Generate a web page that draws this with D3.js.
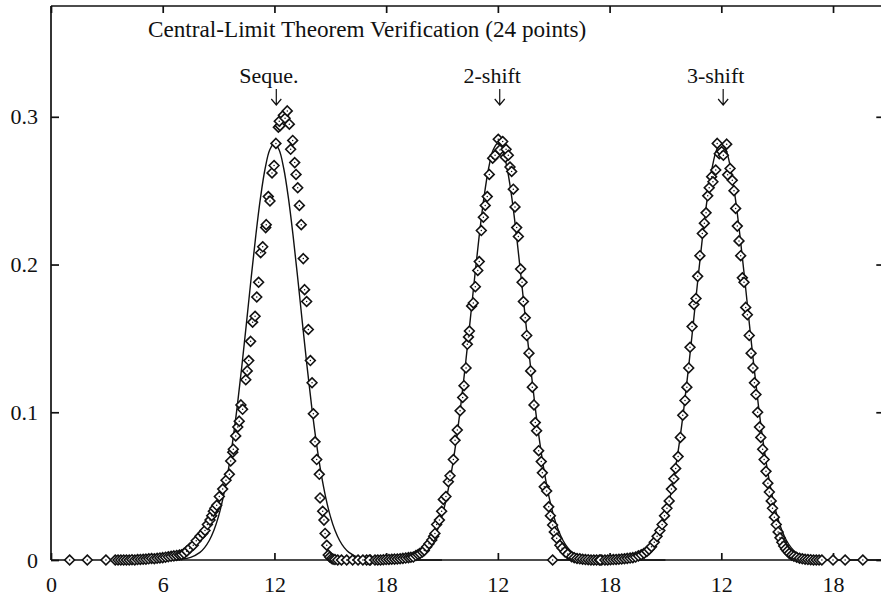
<!DOCTYPE html>
<html>
<head>
<meta charset="utf-8">
<script src="https://cdn.jsdelivr.net/npm/d3@7"></script>
<style>
  html, body { margin: 0; padding: 0; background: #fff; }
  svg { display: block; }
  text { font-family: "Liberation Serif", "Times New Roman", Times, serif; fill: #111; }
</style>
</head>
<body>
<svg id="chart" width="881" height="598"></svg>
<script>
// ---------------- data ----------------
const title = "Central-Limit Theorem Verification (24 points)";
const panelNames = ["Seque.", "2-shift", "3-shift"];
const panelOffsets = [0, 12, 24];          // each panel is shifted by 12 units on the shared axis
const xTickValues = [0, 6, 12, 18, 24, 30, 36, 42];
const xTickLabels = ["0", "6", "12", "18", "12", "18", "12", "18"];
const yTickValues = [0, 0.1, 0.2, 0.3];
const yTickLabels = ["0", "0.1", "0.2", "0.3"];
const labelX = 11.7;   // label centre (local units)
const arrowX = 12.1;   // arrow position (local units)

// theoretical normal curve (mean 12, variance 2)
const curveX = [3, 4, 5, 5.5, 6, 6.5, 7, 7.5, 8, 8.25, 8.5, 8.75, 9, 9.25, 9.5, 9.75, 10, 10.25, 10.5, 10.75, 11, 11.25, 11.5, 11.75,
  12, 12.25, 12.5, 12.75, 13, 13.25, 13.5, 13.75, 14, 14.25, 14.5, 14.75, 15, 15.25, 15.5, 15.75, 16, 16.5, 17, 17.5, 18, 18.5, 19, 20, 21];
const curveY = [0, 0, 0.0000013, 0.000004, 0.000035, 0.00015, 0.00054, 0.00179, 0.00517, 0.00839, 0.0132, 0.0201, 0.0297, 0.0426, 0.0591, 0.0796, 0.1038, 0.1312, 0.1607, 0.1909, 0.2197, 0.2451, 0.2650, 0.2777,
  0.2821, 0.2777, 0.2650, 0.2451, 0.2197, 0.1909, 0.1607, 0.1312, 0.1038, 0.0796, 0.0591, 0.0426, 0.0297, 0.0201, 0.0132, 0.00839, 0.00517, 0.00179, 0.00054, 0.00015, 0.000035, 0.000004, 0.0000013, 0, 0];

// "Seque." histogram points
const seqX = [1.0, 1.95, 2.95, 3.45, 3.6, 3.75, 3.9, 4.05, 4.2, 4.35, 4.5, 4.65, 4.8, 4.95, 5.1, 5.25, 5.4, 5.55, 5.7, 5.85, 6.0, 6.15, 6.3, 6.45, 6.6, 6.75, 6.9, 7.02,
  7.15, 7.29, 7.45, 7.64, 7.8, 8.0, 8.15, 8.27, 8.4, 8.54, 8.63, 8.72, 8.8, 8.9, 9.04, 9.22, 9.4, 9.58, 9.65, 9.76, 9.79, 9.92, 10.03, 10.11, 10.2, 10.29,
  10.46, 10.54, 10.62, 10.72, 10.83, 10.96, 11.05, 11.15, 11.26, 11.37, 11.53, 11.56, 11.67, 11.76, 11.87, 11.98, 12.08, 12.21, 12.3, 12.26, 12.48, 12.57, 12.69,
  12.8, 12.87, 12.98, 13.09, 13.16, 13.25, 13.34, 13.44, 13.55, 13.62, 13.73, 13.82, 13.93, 14.02, 14.09, 14.18, 14.27, 14.41, 14.45, 14.59, 14.66, 14.72, 14.81,
  14.89, 14.97, 15.07, 15.15, 15.25, 15.4, 15.6, 15.88, 16.2, 16.49, 16.95, 17.15];
const seqY = [0, 0, 0, 0, 0, 0, 0, 0, 0, 0.0002, 0, 0.0003, 0.0004, 0.0005, 0.0006, 0.0008, 0.001, 0.0009, 0.0012, 0.0014, 0.0016, 0.0019, 0.0022, 0.0025, 0.0028, 0.0031, 0.0034, 0.0036,
  0.0045, 0.006, 0.008, 0.01, 0.013, 0.016, 0.018, 0.02, 0.024, 0.027, 0.03, 0.033, 0.035, 0.037, 0.043, 0.048, 0.054, 0.058, 0.067, 0.073, 0.075, 0.084, 0.09, 0.094, 0.105, 0.102,
  0.122, 0.128, 0.135, 0.148, 0.161, 0.165, 0.178, 0.188, 0.208, 0.212, 0.225, 0.227, 0.246, 0.243, 0.262, 0.267, 0.282, 0.293, 0.294, 0.297, 0.301, 0.299, 0.304,
  0.295, 0.278, 0.284, 0.269, 0.261, 0.252, 0.24, 0.227, 0.204, 0.183, 0.175, 0.156, 0.135, 0.12, 0.099, 0.08, 0.068, 0.058, 0.042, 0.033, 0.027, 0.018, 0.01,
  0.0034, 0.002, 0.001, 0.0005, 0.0003, 0, 0, 0, 0, 0, 0, 0];

// "2-shift" histogram points (local units)
const shift2X = [4.75, 5.1, 5.4, 5.55, 5.7, 5.85, 6.0, 6.15, 6.3, 6.45, 6.6, 6.75, 6.9, 7.05, 7.2, 7.33, 7.46, 7.6, 7.72, 7.82, 7.95, 8.05, 8.18, 8.3, 8.45, 8.55, 8.62,
  8.71, 8.86, 8.98, 9.07, 9.21, 9.34, 9.43, 9.61, 9.7, 9.82, 9.97, 10.11, 10.18, 10.29, 10.36, 10.42, 10.47, 10.59, 10.68, 10.79, 10.92, 11.0, 11.11, 11.22,
  11.32, 11.43, 11.54, 11.72, 11.85, 12.02, 12.11, 12.26, 12.4, 12.44, 12.56, 12.65, 12.74, 12.83, 12.92, 13.01, 13.1, 13.22, 13.3, 13.37, 13.47, 13.55, 13.67,
  13.76, 13.85, 13.94, 14.01, 14.08, 14.19, 14.33, 14.39, 14.49, 14.62, 14.73, 14.82, 14.94, 15.03, 15.16, 15.33, 15.45, 15.6, 15.75, 15.96, 16.1, 16.25, 16.4,
  16.55, 16.7, 16.85, 17.0, 17.15, 17.3, 17.45, 17.58];
const shift2Y = [0, 0, 0, 0, 0, 0.0002, 0.0003, 0.0004, 0.0005, 0.0006, 0.0007, 0.0009, 0.0011, 0.0013, 0.0016, 0.0018, 0.002, 0.003, 0.0037, 0.0045, 0.0055, 0.0065, 0.009, 0.011, 0.0135, 0.016, 0.018,
  0.024, 0.027, 0.033, 0.041, 0.043, 0.053, 0.057, 0.068, 0.081, 0.088, 0.101, 0.11, 0.118, 0.13, 0.146, 0.151, 0.155, 0.172, 0.174, 0.185, 0.196, 0.202, 0.223, 0.232,
  0.24, 0.246, 0.261, 0.272, 0.274, 0.2848, 0.2776, 0.2833, 0.2726, 0.278, 0.274, 0.266, 0.263, 0.251, 0.239, 0.225, 0.219, 0.197, 0.188, 0.175, 0.164, 0.152, 0.14,
  0.128, 0.117, 0.105, 0.093, 0.0875, 0.074, 0.0666, 0.059, 0.0496, 0.0467, 0.036, 0.03, 0.0237, 0.019, 0.0147, 0.01, 0.008, 0.0056, 0.004, 0.0022, 0.0015, 0.001, 0.0008,
  0.0005, 0.0003, 0.0002, 0, 0, 0, 0, 0];

// "3-shift" histogram points (local units)
const shift3X = [2.94, 5.5, 5.75, 5.9, 6.05, 6.2, 6.35, 6.5, 6.65, 6.8, 6.95, 7.1, 7.25, 7.4, 7.55, 7.7, 7.85, 8.0, 8.12, 8.25, 8.4, 8.55, 8.7, 8.82, 8.95, 9.08, 9.2,
  9.32, 9.45, 9.55, 9.68, 9.8, 9.93, 10.05, 10.15, 10.25, 10.32, 10.43, 10.53, 10.64, 10.73, 10.85, 10.98, 11.09, 11.18, 11.27, 11.35, 11.48, 11.55, 11.7,
  11.78, 11.89, 12.02, 12.11, 12.29, 12.34, 12.47, 12.59, 12.68, 12.77, 12.86, 12.95, 13.04, 13.13, 13.22, 13.31, 13.4, 13.5, 13.6, 13.7, 13.78, 13.86, 13.95,
  14.05, 14.12, 14.22, 14.3, 14.4, 14.5, 14.58, 14.68, 14.75, 14.85, 14.95, 15.05, 15.15, 15.25, 15.35, 15.45, 15.55, 15.65, 15.78, 15.9, 16.05, 16.2, 16.35,
  16.5, 16.65, 16.8, 16.95, 17.1, 17.25, 17.4, 18.0, 18.65, 19.6];
const shift3Y = [0, 0, 0, 0, 0.0002, 0.0003, 0.0004, 0.0005, 0.0007, 0.0009, 0.0011, 0.0013, 0.0016, 0.002, 0.0028, 0.0035, 0.0045, 0.0058, 0.0072, 0.009, 0.012, 0.016, 0.02, 0.024, 0.03, 0.035, 0.04,
  0.048, 0.055, 0.062, 0.07, 0.083, 0.098, 0.108, 0.117, 0.13, 0.144, 0.158, 0.173, 0.177, 0.192, 0.206, 0.221, 0.228, 0.235, 0.2465, 0.252, 0.2595, 0.256, 0.264,
  0.282, 0.275, 0.2765, 0.274, 0.2815, 0.2607, 0.265, 0.257, 0.25, 0.238, 0.226, 0.216, 0.206, 0.191, 0.188, 0.171, 0.166, 0.152, 0.14, 0.13, 0.12, 0.112, 0.1,
  0.09, 0.083, 0.075, 0.068, 0.06, 0.052, 0.046, 0.04, 0.035, 0.029, 0.024, 0.019, 0.015, 0.012, 0.0095, 0.0075, 0.006, 0.0045, 0.0033, 0.0025, 0.0018, 0.0012, 0.0008,
  0.0005, 0.0003, 0.0002, 0, 0, 0, 0, 0, 0, 0];

const seriesX = [seqX, shift2X, shift3X];
const seriesY = [seqY, shift2Y, shift3Y];

// ---------------- drawing ----------------
const svg = d3.select("#chart");
const pLeft = 51, pRight = 883.3, pTop = 6, pBottom = 560;
const x = d3.scaleLinear().domain([0, 44.7]).range([pLeft, pRight]);
const y = d3.scaleLinear().domain([0, 0.375]).range([pBottom, pTop]);

const ink = "#111";
const fontSize = 22;

// curves
const line = d3.line().x(d => x(d[0])).y(d => y(d[1])).curve(d3.curveCatmullRom.alpha(0.5));
panelOffsets.forEach(off => {
  const pts = curveX.map((cx, i) => [cx + off, curveY[i]]);
  svg.append("path").attr("d", line(pts))
    .attr("fill", "none").attr("stroke", ink).attr("stroke-width", 1.4);
});

// frame
const frame = svg.append("g").attr("stroke", ink).attr("stroke-width", 1.7).attr("fill", "none");
frame.append("line").attr("x1", pLeft).attr("x2", pLeft).attr("y1", pTop).attr("y2", pBottom);
frame.append("line").attr("x1", pRight).attr("x2", pRight).attr("y1", pTop).attr("y2", pBottom);
frame.append("line").attr("x1", pLeft).attr("x2", pRight).attr("y1", pTop).attr("y2", pTop);

// axes
const styleAxis = g => {
  g.select(".domain").remove();
  g.selectAll(".tick line").attr("stroke", ink).attr("stroke-width", 1.7);
  g.selectAll(".tick text").attr("font-size", fontSize).attr("fill", ink)
    .style("font-family", '"Liberation Serif", "Times New Roman", serif');
};

const xAxis = svg.append("g").attr("transform", `translate(0,${pBottom})`)
  .call(d3.axisBottom(x).tickValues(xTickValues).tickFormat((d, i) => xTickLabels[i]).tickSize(-7).tickPadding(0))
  .call(styleAxis);
xAxis.selectAll(".tick text").attr("y", 32).attr("dy", null);

svg.append("g").attr("transform", `translate(0,${pTop})`)
  .call(d3.axisTop(x).tickValues(xTickValues).tickFormat("").tickSize(-7))
  .call(styleAxis);

svg.append("g").attr("transform", `translate(${pLeft},0)`)
  .call(d3.axisLeft(y).tickValues(yTickValues).tickFormat((d, i) => yTickLabels[i]).tickSize(-8).tickPadding(13))
  .call(styleAxis);

svg.append("g").attr("transform", `translate(${pRight},0)`)
  .call(d3.axisRight(y).tickValues(yTickValues).tickFormat("").tickSize(-7))
  .call(styleAxis);

// bottom axis line
svg.append("line").attr("x1", pLeft).attr("x2", pRight).attr("y1", pBottom).attr("y2", pBottom)
  .attr("stroke", ink).attr("stroke-width", 1.7);

// markers
const diamond = "M0,-4.9L4.9,0L0,4.9L-4.9,0Z";
panelOffsets.forEach((off, p) => {
  const pts = seriesX[p].map((v, i) => [v + off, seriesY[p][i]]);
  const g = svg.append("g");
  const m = g.selectAll("g").data(pts).join("g")
    .attr("transform", d => `translate(${x(d[0])},${y(d[1])})`);
  m.append("path").attr("d", diamond).attr("fill", "#fff").attr("stroke", ink).attr("stroke-width", 1.6);
  m.append("circle").attr("r", 0.75).attr("fill", ink);
});

// title
svg.append("text").attr("x", 148).attr("y", 37).attr("font-size", 23.2).text(title);

// panel labels and arrows
panelOffsets.forEach((off, p) => {
  svg.append("text").attr("x", x(off + labelX)).attr("y", 83).attr("text-anchor", "middle")
    .attr("font-size", fontSize).text(panelNames[p]);
  const ax = x(off + arrowX);
  svg.append("path")
    .attr("d", `M${ax},89V105M${ax - 5},99L${ax},105L${ax + 5},99`)
    .attr("fill", "none").attr("stroke", ink).attr("stroke-width", 1.2);
});
</script>
</body>
</html>
